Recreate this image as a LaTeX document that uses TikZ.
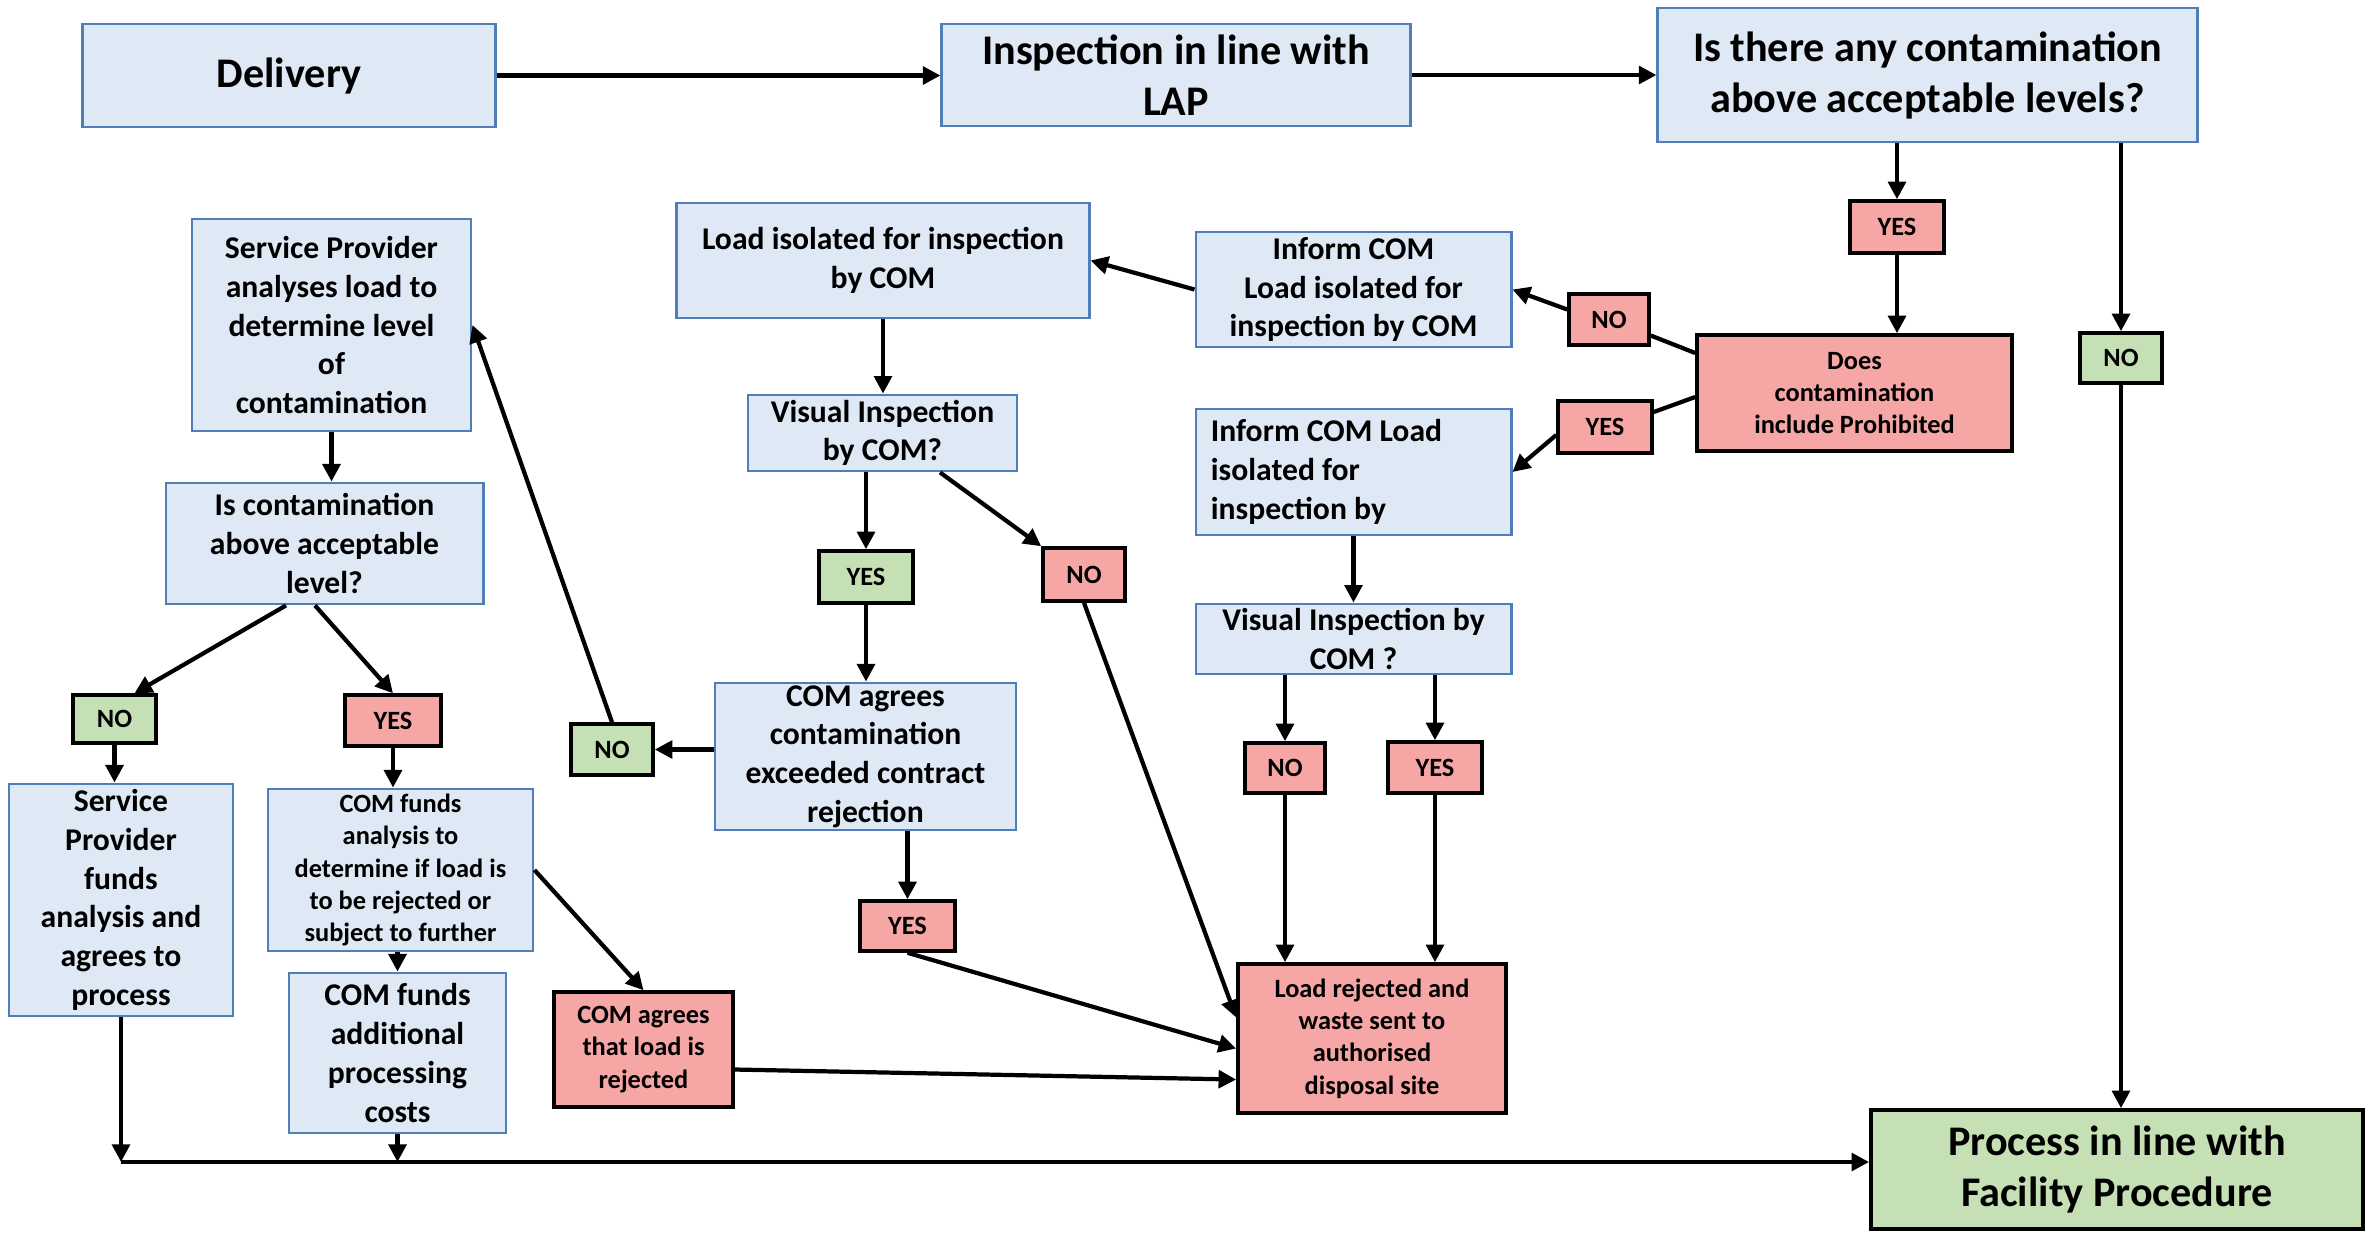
\documentclass[tikz,border=0pt]{standalone}
\usepackage{fontspec}
\setmainfont{Carlito}
\usetikzlibrary{arrows.meta}

\definecolor{boxblue}{RGB}{222,233,245}
\definecolor{edgeblue}{RGB}{79,126,184}
\definecolor{boxred}{RGB}{247,166,166}
\definecolor{boxgreen}{RGB}{197,224,180}

\begin{document}
\begin{tikzpicture}[x=0.01cm,y=-0.01cm,
    flow/.style={line width=1.2pt,-{Triangle[length=5pt,width=5pt]}},
    link/.style={line width=1.2pt},
    big/.style={font=\bfseries\fontsize{12}{14.5}\selectfont},
    mid/.style={font=\bfseries\fontsize{9}{11}\selectfont},
    small/.style={font=\bfseries\fontsize{7.5}{9.2}\selectfont}]
  \tikzstyle{infobox}=[draw=edgeblue,line width=0.8pt,fill=boxblue,align=center,inner sep=0pt]
  \tikzstyle{rejectbox}=[draw=black,line width=1pt,fill=boxred,align=center,inner sep=0pt]
  \tikzstyle{acceptbox}=[draw=black,line width=1pt,fill=boxgreen,align=center,inner sep=0pt]

  \useasboundingbox (0,0) rectangle (2374,1232);

  % top row
  \node[infobox,big,minimum width=4.12cm,minimum height=1.03cm] (delivery) at (289,75.5) {Delivery};
  \node[infobox,big,minimum width=4.68cm,minimum height=1.02cm] (inspect) at (1176,75) {Inspection in line with\\LAP};
  \node[infobox,big,minimum width=5.39cm,minimum height=1.34cm] (contam) at (1927.5,75) {Is there any contamination\\above acceptable levels?};
  \node[rejectbox,small,minimum width=0.94cm,minimum height=0.52cm] (yesA) at (1897,227) {YES};
  \node[acceptbox,small,minimum width=0.82cm,minimum height=0.50cm] (noA) at (2121,358) {NO};
  \node[rejectbox,small,minimum width=3.15cm,minimum height=1.16cm] (prohib) at (1854.5,393) {Does\\contamination\\include Prohibited};
  \node[rejectbox,small,minimum width=0.80cm,minimum height=0.51cm] (noB) at (1609,319.5) {NO};
  \node[rejectbox,small,minimum width=0.94cm,minimum height=0.52cm] (yesB) at (1605,427) {YES};

  % middle column
  \node[infobox,mid,minimum width=3.15cm,minimum height=1.15cm] (informA) at (1353.5,289.5) {Inform COM\\Load isolated for\\inspection by COM};
  \node[infobox,mid,minimum width=3.15cm,minimum height=1.26cm,text width=2.85cm,align=flush left] (informB) at (1353.5,472) {Inform COM Load\\isolated for\\inspection by};
  \node[infobox,mid,minimum width=4.12cm,minimum height=1.15cm] (isolated) at (883,260.5) {Load isolated for inspection\\by COM};
  \node[infobox,mid,minimum width=2.69cm,minimum height=0.76cm] (visualA) at (882.5,433) {Visual Inspection\\by COM?};
  \node[acceptbox,small,minimum width=0.94cm,minimum height=0.52cm] (yesC) at (866,577) {YES};
  \node[rejectbox,small,minimum width=0.82cm,minimum height=0.53cm] (noC) at (1084,574.5) {NO};
  \node[infobox,mid,minimum width=3.01cm,minimum height=1.47cm] (agreeA) at (865.5,756.5) {COM agrees\\contamination\\exceeded contract\\rejection};
  \node[acceptbox,small,minimum width=0.82cm,minimum height=0.51cm] (noD) at (612,749.5) {NO};
  \node[rejectbox,small,minimum width=0.95cm,minimum height=0.50cm] (yesD) at (907.5,926) {YES};
  \node[infobox,mid,minimum width=3.15cm,minimum height=0.70cm] (visualB) at (1353.5,639) {Visual Inspection by\\COM ?};
  \node[rejectbox,small,minimum width=0.80cm,minimum height=0.50cm] (noE) at (1285,768) {NO};
  \node[rejectbox,small,minimum width=0.94cm,minimum height=0.51cm] (yesE) at (1435,767.5) {YES};
  \node[rejectbox,small,minimum width=2.68cm,minimum height=1.49cm] (rejected) at (1372,1038.5) {Load rejected and\\waste sent to\\authorised\\disposal site};
  \node[rejectbox,small,minimum width=1.79cm,minimum height=1.15cm] (agreeB) at (643.5,1049.5) {COM agrees\\that load is\\rejected};

  % left column
  \node[infobox,mid,minimum width=2.79cm,minimum height=2.12cm] (analyse) at (331.5,325) {Service Provider\\analyses load to\\determine level\\of\\contamination};
  \node[infobox,mid,minimum width=3.17cm,minimum height=1.21cm] (above) at (324.5,543.5) {Is contamination\\above acceptable\\level?};
  \node[acceptbox,small,minimum width=0.83cm,minimum height=0.48cm] (noF) at (114.5,719) {NO};
  \node[rejectbox,small,minimum width=0.96cm,minimum height=0.51cm] (yesF) at (393,720.5) {YES};
  \node[infobox,mid,minimum width=2.24cm,minimum height=2.32cm] (spfunds) at (121,900) {Service\\Provider\\funds\\analysis and\\agrees to\\process};
  \node[infobox,small,minimum width=2.65cm,minimum height=1.62cm] (comfunds) at (400.5,870) {COM funds\\analysis to\\determine if load is\\to be rejected or\\subject to further};
  \node[infobox,mid,minimum width=2.17cm,minimum height=1.60cm] (addcost) at (397.5,1053) {COM funds\\additional\\processing\\costs};
  \node[acceptbox,big,minimum width=4.92cm,minimum height=1.19cm] (process) at (2117,1169.5) {Process in line with\\Facility Procedure};

  % connectors
  \draw[flow] (delivery.east) -- (delivery.east -| inspect.west);
  \draw[flow] (inspect.east) -- (inspect.east -| contam.west);
  \draw[flow] (contam.south -| yesA) -- (yesA.north);
  \draw[flow] (yesA.south) -- (yesA.south |- prohib.north);
  \draw[flow] (contam.south -| noA) -- (noA.north);
  \draw[flow] (noA.south) -- (noA.south |- process.north);
  \draw[link] ([yshift=4mm]prohib.west) -- ([yshift=-1.6mm]noB.east);
  \draw[flow] ([yshift=1mm]noB.west) -- (informA.east);
  \draw[link] ([yshift=-0.4mm]prohib.west) -- ([yshift=1.5mm]yesB.east);
  \draw[flow] ([yshift=-0.8mm]yesB.west) -- (informB.east);
  \draw[flow] (informA.west) -- (isolated.east);
  \draw[flow] (isolated.south) -- (isolated.south |- visualA.north);
  \draw[flow] (visualA.south -| yesC) -- (yesC.north);
  \draw[flow] ([xshift=5.75mm]visualA.south) -- (noC.north west);
  \draw[flow] (yesC.south) -- (yesC.south |- agreeA.north);
  \draw[flow] (noC.south) -- ([yshift=2.1mm]rejected.west);
  \draw[flow] (agreeA.west |- noD.east) -- (noD.east);
  \draw[flow] (noD.north) -- (analyse.east);
  \draw[flow] (agreeA.south -| yesD) -- (yesD.north);
  \draw[flow] (yesD.south) -- ([yshift=-1mm]rejected.west);
  \draw[flow] (informB.south) -- (informB.south |- visualB.north);
  \draw[flow] (visualB.south -| noE) -- (noE.north);
  \draw[flow] (visualB.south -| yesE) -- (yesE.north);
  \draw[flow] (noE.south) -- (noE.south |- rejected.north);
  \draw[flow] (yesE.south) -- (yesE.south |- rejected.north);
  \draw[flow] ([yshift=-2mm]agreeB.east) -- ([yshift=-4.1mm]rejected.west);
  \draw[flow] (analyse.south) -- (analyse.south |- above.north);
  \draw[flow] ([xshift=-3.85mm]above.south) -- ([xshift=2mm]noF.north);
  \draw[flow] ([xshift=-0.95mm]above.south) -- (yesF.north);
  \draw[flow] (noF.south) -- (noF.south |- spfunds.north);
  \draw[flow] (yesF.south) -- (yesF.south |- comfunds.north);
  \draw[flow] (comfunds.south -| addcost) -- (addcost.north);
  \draw[flow] (comfunds.east) -- (agreeB.north);
  \coordinate (merge) at (121,1162);
  \draw[flow] (spfunds.south) -- (merge);
  \draw[flow] (addcost.south) -- (addcost.south |- merge);
  \draw[flow] (merge) -- (merge -| process.west);
\end{tikzpicture}
\end{document}
